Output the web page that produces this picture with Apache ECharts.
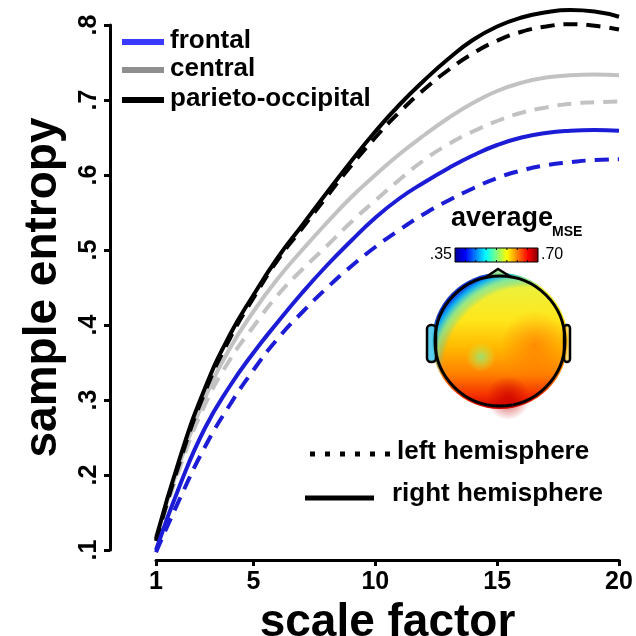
<!DOCTYPE html>
<html>
<head>
<meta charset="utf-8">
<title>sample entropy</title>
<script src="https://cdn.jsdelivr.net/npm/echarts@6/dist/echarts.min.js"></script>
<style>
    html, body { margin: 0; padding: 0; background: #fff; }
    #chart { width: 636px; height: 636px; }
</style>
</head>
<body>
<div id="chart"></div>
<script>
// scale factors (x)
var scaleFactor = [1, 2, 3, 4, 5, 6, 7, 8, 9, 10, 11, 12, 13, 14, 15, 16, 17, 18, 19, 20];
var xTicks = [1, 5, 10, 15, 20];
// sample entropy per region, right = solid, left = dashed
var frontalRight = [0.100, 0.188, 0.262, 0.317, 0.363, 0.404, 0.443, 0.479, 0.512, 0.543, 0.569, 0.590, 0.609, 0.626, 0.640, 0.650, 0.656, 0.659, 0.660, 0.659];
var frontalLeft = [0.097, 0.170, 0.237, 0.292, 0.340, 0.382, 0.417, 0.449, 0.478, 0.504, 0.527, 0.548, 0.566, 0.582, 0.596, 0.606, 0.613, 0.617, 0.620, 0.621];
var centralRight = [0.118, 0.218, 0.302, 0.367, 0.418, 0.462, 0.500, 0.536, 0.570, 0.600, 0.628, 0.653, 0.676, 0.696, 0.712, 0.723, 0.730, 0.733, 0.734, 0.733];
var centralLeft = [0.113, 0.212, 0.293, 0.352, 0.398, 0.440, 0.474, 0.505, 0.537, 0.566, 0.594, 0.620, 0.641, 0.658, 0.672, 0.683, 0.690, 0.695, 0.697, 0.698];
var parietoRight = [0.115, 0.225, 0.315, 0.385, 0.440, 0.490, 0.533, 0.576, 0.618, 0.658, 0.694, 0.726, 0.755, 0.780, 0.798, 0.810, 0.817, 0.820, 0.818, 0.811];
var parietoLeft = [0.112, 0.220, 0.310, 0.380, 0.436, 0.487, 0.529, 0.571, 0.612, 0.650, 0.684, 0.714, 0.740, 0.762, 0.779, 0.791, 0.798, 0.801, 0.799, 0.794];
// colour bar range of the head map
var mapRange = ['.35', '.70'];

var FONT = '"Liberation Sans", Arial, sans-serif';
var BLUE = '#1c1cd6', GRAY = '#c2c2c2', BLACK = '#000000';

var init = {
    default : function(){
        var myChart = echarts.init(document.getElementById('chart'));
        myChart.setOption(init.getOption());
    },
    //pairs x with y
    pairs : function(ys){
        var out = [];
        for(var i=0;i<ys.length;i++){
            out.push([scaleFactor[i], ys[i]]);
        }
        return out;
    },
    makeSeries : function(name, ys, color, dashed){
        return {
            name : name,
            type : 'line',
            data : init.pairs(ys),
            smooth : true,
            showSymbol : false,
            clip : false,
            lineStyle : {
                color : color,
                width : 4,
                type : dashed ? [14, 9] : 'solid',
                cap : 'butt'
            }
        };
    },
    //legends, colour bar and the head drawing
    getGraphic : function(){
        var g = [];
        var legendRows = [
            { text : 'frontal', color : '#3a3aff', y : 42 },
            { text : 'central', color : '#8f8f8f', y : 70 },
            { text : 'parieto-occipital', color : '#000', y : 100 }
        ];
        legendRows.forEach(function(r){
            g.push({ type : 'line', shape : { x1 : 122, y1 : r.y, x2 : 164, y2 : r.y }, style : { stroke : r.color, lineWidth : 6 } });
            g.push({ type : 'text', x : 170, y : r.y - 1, style : { text : r.text, font : 'bold 26px ' + FONT, fill : '#000', verticalAlign : 'middle' } });
        });
        // hemisphere legend
        g.push({ type : 'line', shape : { x1 : 310, y1 : 454, x2 : 392, y2 : 454 }, style : { stroke : '#000', lineWidth : 5, lineDash : [5, 10] } });
        g.push({ type : 'text', x : 397, y : 452, style : { text : 'left hemisphere', font : 'bold 26px ' + FONT, fill : '#000', verticalAlign : 'middle' } });
        g.push({ type : 'line', shape : { x1 : 305, y1 : 498, x2 : 374, y2 : 498 }, style : { stroke : '#000', lineWidth : 5 } });
        g.push({ type : 'text', x : 392, y : 494, style : { text : 'right hemisphere', font : 'bold 26px ' + FONT, fill : '#000', verticalAlign : 'middle' } });

        // map title
        g.push({ type : 'text', x : 451, y : 219, style : { text : 'average', font : 'bold 27px ' + FONT, fill : '#000', verticalAlign : 'middle' } });
        g.push({ type : 'text', x : 552, y : 232, style : { text : 'MSE', font : 'bold 14px ' + FONT, fill : '#000', verticalAlign : 'middle' } });
        // colour bar
        g.push({ type : 'rect', shape : { x : 455, y : 248, width : 83, height : 14 }, style : {
            fill : { type : 'linear', x : 0, y : 0, x2 : 1, y2 : 0, colorStops : [
                { offset : 0, color : '#00008f' }, { offset : 0.125, color : '#0000ff' },
                { offset : 0.375, color : '#00ffff' }, { offset : 0.625, color : '#ffff00' },
                { offset : 0.875, color : '#ff0000' }, { offset : 1, color : '#800000' }
            ] },
            stroke : '#000', lineWidth : 1
        } });
        for(var k=1;k<8;k++){
            var tx = 455 + k * 83 / 8;
            g.push({ type : 'line', shape : { x1 : tx, y1 : 248, x2 : tx, y2 : 250 }, style : { stroke : '#000', lineWidth : 1 } });
            g.push({ type : 'line', shape : { x1 : tx, y1 : 260, x2 : tx, y2 : 262 }, style : { stroke : '#000', lineWidth : 1 } });
        }
        g.push({ type : 'text', x : 452, y : 255, style : { text : mapRange[0], font : '16px ' + FONT, fill : '#000', align : 'right', verticalAlign : 'middle' } });
        g.push({ type : 'text', x : 541, y : 255, style : { text : mapRange[1], font : '16px ' + FONT, fill : '#000', verticalAlign : 'middle' } });

        // head map
        var cx = 500, cy = 341;
        g.push({ type : 'circle', shape : { cx : cx, cy : cy, r : 68 }, style : {
            fill : { type : 'linear', x : 0, y : 0, x2 : 0, y2 : 1, colorStops : [
                { offset : 0, color : '#b5e86a' }, { offset : 0.12, color : '#eef03a' },
                { offset : 0.35, color : '#ffe61a' }, { offset : 0.55, color : '#ffb800' },
                { offset : 0.75, color : '#ff7e00' }, { offset : 0.9, color : '#f53000' },
                { offset : 1, color : '#d00000' }
            ] }
        } });
        g.push({ type : 'circle', shape : { cx : cx, cy : cy, r : 68 }, style : {
            fill : { type : 'radial', x : 0.72, y : 0.74, r : 0.8, colorStops : [
                { offset : 0, color : 'rgba(0,200,255,0)' }, { offset : 0.8, color : 'rgba(0,200,255,0)' },
                { offset : 0.88, color : 'rgba(80,230,200,0.55)' }, { offset : 0.95, color : 'rgba(0,170,255,0.95)' },
                { offset : 1, color : 'rgba(20,50,225,1)' }
            ] }
        } });
        g.push({ type : 'circle', shape : { cx : 535, cy : 345, r : 34 }, style : {
            fill : { type : 'radial', x : 0.5, y : 0.5, r : 0.5, colorStops : [
                { offset : 0, color : 'rgba(255,100,0,0.55)' }, { offset : 1, color : 'rgba(255,100,0,0)' }
            ] }
        } });
        g.push({ type : 'circle', shape : { cx : 481, cy : 357, r : 15 }, style : {
            fill : { type : 'radial', x : 0.5, y : 0.5, r : 0.5, colorStops : [
                { offset : 0, color : 'rgba(150,225,120,0.95)' }, { offset : 1, color : 'rgba(210,240,60,0)' }
            ] }
        } });
        g.push({ type : 'circle', shape : { cx : 508, cy : 398, r : 22 }, style : {
            fill : { type : 'radial', x : 0.5, y : 0.5, r : 0.5, colorStops : [
                { offset : 0, color : 'rgba(200,0,0,0.75)' }, { offset : 1, color : 'rgba(200,0,0,0)' }
            ] }
        } });
        // ears and nose
        g.push({ type : 'rect', shape : { x : 427, y : 325, width : 9, height : 37, r : 4 }, style : { fill : 'rgba(70,200,235,0.9)', stroke : '#000', lineWidth : 2.5 } });
        g.push({ type : 'rect', shape : { x : 564, y : 325, width : 6, height : 37, r : 3 }, style : { fill : 'rgba(255,190,40,0.6)', stroke : '#000', lineWidth : 2.5 } });
        g.push({ type : 'polyline', shape : { points : [[486, 277], [498, 269], [511, 277]] }, style : { stroke : '#000', lineWidth : 2.5, fill : 'rgba(150,230,140,0.9)' } });
        g.push({ type : 'circle', shape : { cx : cx, cy : cy, r : 65 }, style : { fill : 'none', stroke : '#000', lineWidth : 3 } });
        return g;
    },
    getOption : function(){
        var axisFont = { fontFamily : FONT, fontWeight : 'bold', color : '#000' };
        return {
            animation : false,
            backgroundColor : '#fff',
            grid : { left : 156, right : 17, top : 25, bottom : 86, containLabel : false, outerBoundsMode : 'none' },
            xAxis : {
                type : 'value',
                min : 1,
                max : 20,
                offset : 10,
                splitLine : { show : false },
                axisLine : { lineStyle : { color : '#000', width : 3 } },
                axisTick : { customValues : xTicks, length : 6, lineStyle : { color : '#000', width : 3 } },
                axisLabel : Object.assign({ customValues : xTicks, fontSize : 25, margin : 10 }, axisFont),
                name : 'scale factor',
                nameLocation : 'middle',
                nameGap : 38,
                nameTextStyle : Object.assign({ fontSize : 46 }, axisFont)
            },
            yAxis : {
                type : 'value',
                min : 0.1,
                max : 0.8,
                interval : 0.1,
                offset : 46,
                splitLine : { show : false },
                axisLine : { show : true, lineStyle : { color : '#000', width : 3 } },
                axisTick : { show : true, length : 6, lineStyle : { color : '#000', width : 3 } },
                axisLabel : Object.assign({
                    rotate : 90,
                    fontSize : 25,
                    margin : 8,
                    formatter : function(v){ return v.toFixed(1).replace('0.', '.'); }
                }, axisFont),
                name : 'sample entropy',
                nameLocation : 'middle',
                nameGap : 44,
                nameTextStyle : Object.assign({ fontSize : 46 }, axisFont)
            },
            series : [
                init.makeSeries('central right', centralRight, GRAY, false),
                init.makeSeries('central left', centralLeft, GRAY, true),
                init.makeSeries('parieto-occipital right', parietoRight, BLACK, false),
                init.makeSeries('parieto-occipital left', parietoLeft, BLACK, true),
                init.makeSeries('frontal right', frontalRight, BLUE, false),
                init.makeSeries('frontal left', frontalLeft, BLUE, true)
            ],
            graphic : init.getGraphic()
        };
    }
};
init.default();
</script>
</body>
</html>
